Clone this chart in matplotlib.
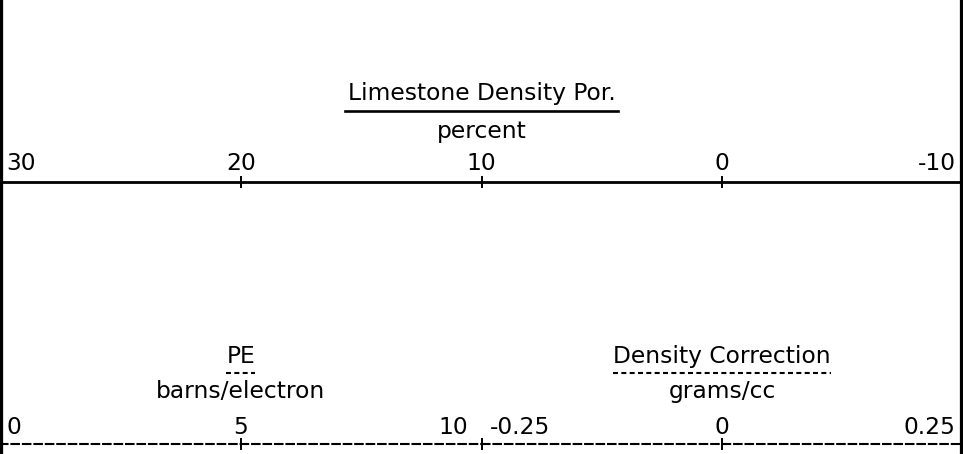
import matplotlib
matplotlib.use("Agg")
import matplotlib.pyplot as plt
from matplotlib.transforms import ScaledTranslation

plt.rcParams["font.family"] = ["DejaVu Sans"]
plt.rcParams["font.size"] = 16.8

# porosity track (top)
por_lim = (30, -10)
por_ticks = [30, 20, 10, 0, -10]
por_labels = ["30", "20", "10", "0", "-10"]
por_title = "Limestone Density Por."
por_unit = "percent"

# PE (bottom left) and density correction (bottom right)
pe_lim = (0, 10)
pe_ticks = [0, 5, 10]
pe_labels = ["0", "5", "10"]
pe_title = "PE"
pe_unit = "barns/electron"

dc_lim = (-0.25, 0.25)
dc_ticks = [-0.25, 0, 0.25]
dc_labels = ["-0.25", "0", "0.25"]
dc_title = "Density Correction"
dc_unit = "grams/cc"

W, H, DPI = 963, 454, 100
fig = plt.figure(figsize=(W / DPI, H / DPI), dpi=DPI)

solid = "-"
dashed = (0, (3.6, 1.9))


def px(v):
    # pixels -> points
    return v * 72.0 / DPI


def scale_axis(rect, lim, ticks, labels, ls, lw, num_up, edge_pad):
    ax = fig.add_axes(rect)
    ax.set_xlim(*lim)
    ax.set_ylim(0, 1)
    ax.patch.set_visible(False)
    for s in ["left", "right", "bottom"]:
        ax.spines[s].set_visible(False)
    ax.spines["top"].set_linewidth(lw)
    ax.spines["top"].set_linestyle(ls)
    ax.set_yticks([])
    ax.xaxis.tick_top()
    ax.set_xticks(ticks)
    ax.tick_params(axis="x", direction="inout", length=px(12), width=1.4,
                   labeltop=False, labelbottom=False)
    trans = ax.get_xaxis_transform()
    n = len(ticks)
    for i, (v, lab) in enumerate(zip(ticks, labels)):
        if i == 0:
            ha, dx = "left", edge_pad[0]
        elif i == n - 1:
            ha, dx = "right", edge_pad[1]
        else:
            ha, dx = "center", 0
        ax.annotate(lab, (v, 1), xycoords=trans, xytext=(px(dx), px(num_up)),
                    textcoords="offset points", ha=ha, va="baseline")
    return ax


def header(ax, x, title, unit, title_up, unit_up, line_up, ls, lw, ext):
    trans = ax.get_xaxis_transform()
    t = ax.annotate(title, (x, 1), xycoords=trans, xytext=(0, px(title_up)),
                    textcoords="offset points", ha="center", va="baseline")
    ax.annotate(unit, (x, 1), xycoords=trans, xytext=(0, px(unit_up)),
                textcoords="offset points", ha="center", va="baseline")
    return t, (ax, line_up, ls, lw, ext)


y_top = 1 - 182 / H
y_bot = 1 - 444 / H

ax_por = scale_axis([0, y_top - 0.3, 1, 0.3], por_lim, por_ticks, por_labels,
                    solid, 2.0, 12, (6, -7))
ax_pe = scale_axis([0, y_bot - 0.02, 0.5, 0.02], pe_lim, pe_ticks, pe_labels,
                   dashed, 1.5, 10, (6, -13))
ax_dc = scale_axis([0.5, y_bot - 0.02, 0.5, 0.02], dc_lim, dc_ticks, dc_labels,
                   dashed, 1.5, 10, (8, -8))

heads = [
    header(ax_por, 10, por_title, por_unit, 82, 44, 71, solid, 1.9, 3),
    header(ax_pe, 5, pe_title, pe_unit, 81, 46, 71, (0, (2.4, 1.6)), 1.5, 0),
    header(ax_dc, 0, dc_title, dc_unit, 81, 46, 71, (0, (2.4, 1.6)), 1.5, 0),
]

# underlines follow the rendered title widths
fig.canvas.draw()
for t, (ax, line_up, ls, lw, ext) in heads:
    bb = t.get_window_extent()
    inv = ax.transData.inverted()
    x0 = inv.transform((bb.x0 - ext, 0))[0]
    x1 = inv.transform((bb.x1 + ext, 0))[0]
    off = ScaledTranslation(0, line_up / DPI, fig.dpi_scale_trans)
    ax.plot([x0, x1], [1, 1], transform=ax.get_xaxis_transform() + off,
            color="black", lw=lw, ls=ls, clip_on=False)

# track borders
bg = fig.add_axes([0, 0, 1, 1])
bg.set_xlim(*por_lim)
bg.set_ylim(0, 1)
bg.axis("off")
bg.patch.set_visible(False)
for v in por_lim:
    bg.axvline(v, color="black", lw=4.5, clip_on=False)

fig.savefig("out.png", dpi=DPI)
